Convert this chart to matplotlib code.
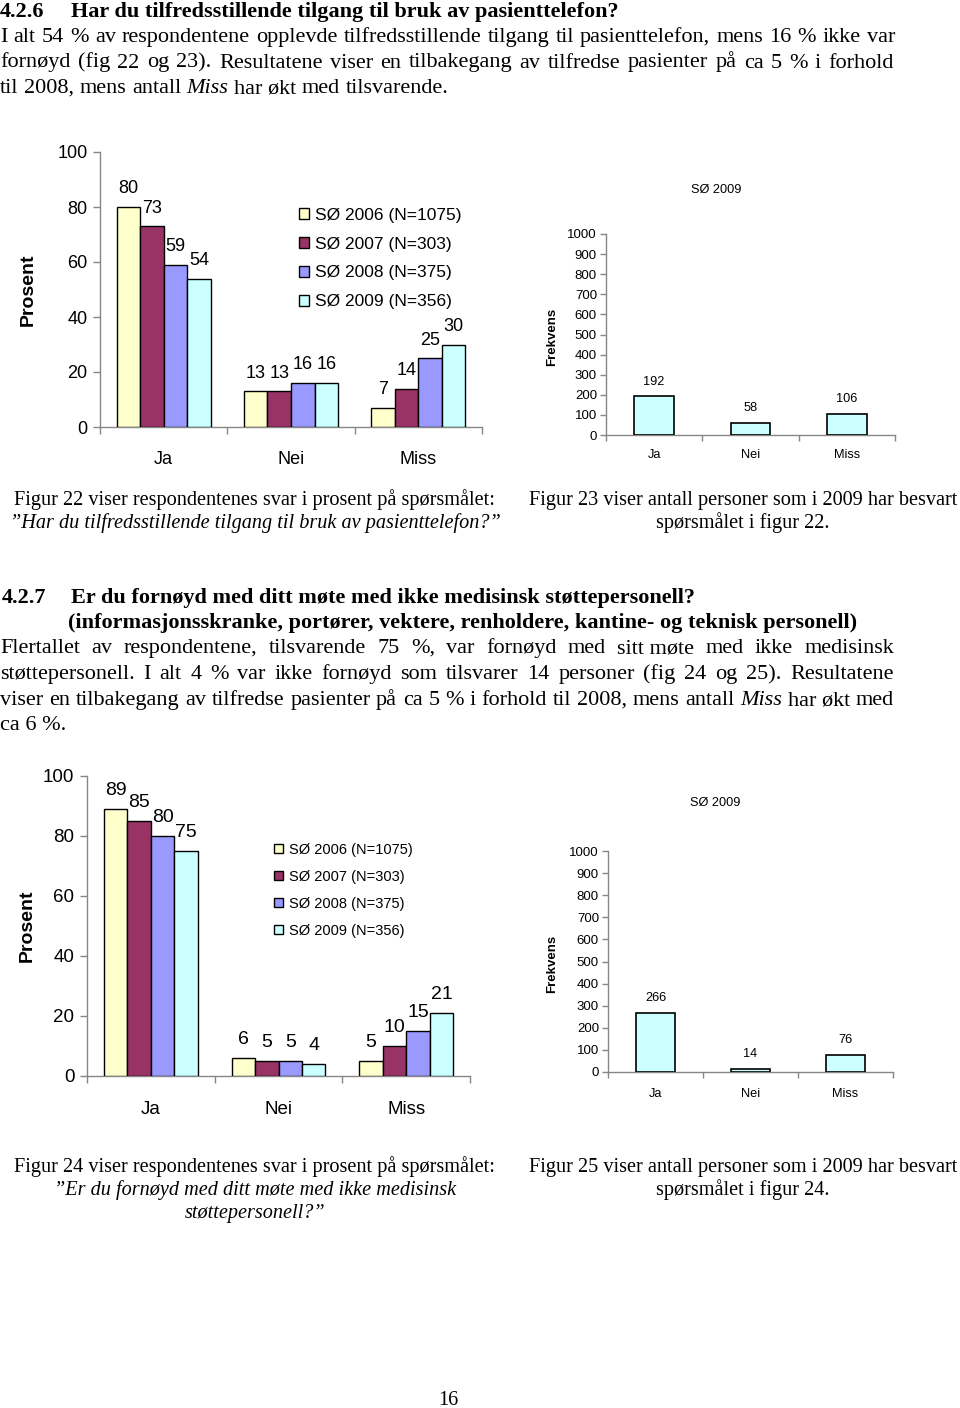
import matplotlib
matplotlib.use('Agg')
import matplotlib.pyplot as plt
import numpy as np

# ---------------- data ----------------
categories = ["Ja", "Nei", "Miss"]
series_labels = ["S\u00d8 2006 (N=1075)", "S\u00d8 2007 (N=303)", "S\u00d8 2008 (N=375)", "S\u00d8 2009 (N=356)"]
series_colors = ["#FFFFCC", "#993366", "#9999FF", "#CCFFFF"]

fig22_2006 = [80, 13, 7]
fig22_2007 = [73, 13, 14]
fig22_2008 = [59, 16, 25]
fig22_2009 = [54, 16, 30]

fig23_counts = [192, 58, 106]

fig24_2006 = [89, 6, 5]
fig24_2007 = [85, 5, 10]
fig24_2008 = [80, 5, 15]
fig24_2009 = [75, 4, 21]

fig25_counts = [266, 14, 76]

pct_ticks = [0, 20, 40, 60, 80, 100]
freq_ticks = [0, 100, 200, 300, 400, 500, 600, 700, 800, 900, 1000]

# ---------------- page setup ----------------
W, H, DPI = 960, 1408, 100
plt.rcParams['font.family'] = 'Liberation Sans'
fig = plt.figure(figsize=(W / DPI, H / DPI), dpi=DPI)
fig.patch.set_facecolor('white')
renderer = fig.canvas.get_renderer()

SERIF = 'Liberation Serif'
AXCOL = '#868686'


def fx(x):
    return x / W


def fy(y):
    return 1 - y / H


def add_ax(l, t, r, b):
    return fig.add_axes([l / W, 1 - b / H, (r - l) / W, (b - t) / H])


def split_words(s):
    # '~' joins two words into one unit (kept with an ordinary space)
    out = []
    for w in s.split():
        w = w.replace('~', ' ')
        if w.startswith('*') and w.endswith('*'):
            out.append((w.strip('*'), 'italic'))
        else:
            out.append((w, None))
    return out


def text_line(y, s, x0, x1=None, justify=False, size=16, align='left',
              weight='normal', style='normal'):
    if not justify and '*' not in s:
        # plain line: a single text object
        s2 = s.replace('~', ' ')
        if align == 'center':
            fig.text(fx((x0 + x1) / 2), fy(y), s2, fontsize=size, family=SERIF,
                     fontstyle=style, fontweight=weight, va='baseline', ha='center')
        else:
            fig.text(fx(x0), fy(y), s2, fontsize=size, family=SERIF,
                     fontstyle=style, fontweight=weight, va='baseline', ha='left')
        return
    ts = []
    for w, st in split_words(s):
        t = fig.text(0, fy(y), w, fontsize=size, family=SERIF,
                     fontstyle=(st or style), fontweight=weight,
                     va='baseline', ha='left')
        ts.append(t)
    widths = [t.get_window_extent(renderer).width for t in ts]
    sp = size * DPI / 72 * 0.25
    if justify and len(ts) > 1:
        sp = (x1 - x0 - sum(widths)) / (len(ts) - 1)
    total = sum(widths) + sp * (len(ts) - 1)
    start = (x0 + x1) / 2 - total / 2 if align == 'center' else x0
    x = start
    for t, w in zip(ts, widths):
        t.set_x(fx(x))
        x += w + sp


# ---------------- body text ----------------
text_line(17, "4.2.6", 0, weight='bold')
text_line(17, "Har du tilfredsstillende tilgang til bruk av pasienttelefon?", 71, weight='bold')
text_line(42, "I alt 54 % av respondentene opplevde tilfredsstillende tilgang til pasienttelefon, mens 16 % ikke var",
          0, 895, justify=True)
text_line(67.5, "forn\u00f8yd (fig 22 og 23).  Resultatene viser en tilbakegang av tilfredse pasienter p\u00e5 ca 5 % i forhold",
          0, 894, justify=True)
text_line(93, "til 2008, mens antall *Miss* har~\u00f8kt med tilsvarende.", 0)

text_line(505, "Figur 22 viser respondentenes svar i prosent p\u00e5 sp\u00f8rsm\u00e5let:", 0, 508, align='center', size=14.6)
text_line(528, "\u201dHar du tilfredsstillende tilgang til bruk av pasienttelefon?\u201d", 0, 510, align='center',
          size=14.6, style='italic')
text_line(505, "Figur 23 viser antall personer som i 2009 har besvart", 528, 958, align='center', size=14.6)
text_line(528, "sp\u00f8rsm\u00e5let i figur 22.", 528, 958, align='center', size=14.6)

text_line(603, "4.2.7", 2, weight='bold')
text_line(603, "Er du forn\u00f8yd med ditt m\u00f8te med ikke medisinsk st\u00f8ttepersonell?", 71, weight='bold')
text_line(628, "(informasjonsskranke, port\u00f8rer, vektere, renholdere, kantine- og teknisk personell)", 68, weight='bold')
text_line(653, "Flertallet av respondentene, tilsvarende 75 %, var forn\u00f8yd med sitt~m\u00f8te med ikke medisinsk",
          0, 894, justify=True)
text_line(679, "st\u00f8ttepersonell. I alt 4 % var ikke forn\u00f8yd som tilsvarer 14 personer (fig 24 og 25). Resultatene",
          0, 894, justify=True)
text_line(705, "viser en tilbakegang av tilfredse pasienter p\u00e5 ca 5 % i forhold til 2008, mens antall *Miss* har~\u00f8kt med",
          0, 894, justify=True)
text_line(730, "ca 6 %.", 0)

text_line(1172, "Figur 24 viser respondentenes svar i prosent p\u00e5 sp\u00f8rsm\u00e5let:", 0, 508, align='center', size=14.6)
text_line(1195, "\u201dEr du forn\u00f8yd med ditt m\u00f8te med ikke medisinsk", 0, 510, align='center', size=14.6, style='italic')
text_line(1218, "st\u00f8ttepersonell?\u201d", 0, 510, align='center', size=14.6, style='italic')
text_line(1172, "Figur 25 viser antall personer som i 2009 har besvart", 528, 958, align='center', size=14.6)
text_line(1195, "sp\u00f8rsm\u00e5let i figur 24.", 528, 958, align='center', size=14.6)

text_line(1405, "16", 400, 497, align='center', size=14.6)


# ---------------- charts ----------------
def style_axes(ax, ymax, yticks, tick_fs, cat_fs, catpad, ticklen, tickpad):
    ax.set_xlim(-0.5, 2.5)
    ax.set_ylim(0, ymax)
    ax.patch.set_alpha(0)
    for s in ['top', 'right']:
        ax.spines[s].set_visible(False)
    for s in ['left', 'bottom']:
        ax.spines[s].set_color(AXCOL)
        ax.spines[s].set_linewidth(1)
    ax.set_yticks(yticks)
    ax.tick_params(axis='y', colors=AXCOL, labelcolor='black', labelsize=tick_fs,
                   length=ticklen, pad=tickpad, width=1)
    ax.set_xticks(range(len(categories)))
    ax.set_xticklabels(categories, fontsize=cat_fs)
    ax.tick_params(axis='x', which='major', length=0, pad=catpad)
    ax.set_xticks([-0.5, 0.5, 1.5, 2.5], minor=True)
    ax.tick_params(axis='x', which='minor', length=ticklen, color=AXCOL, width=1)


def grouped_chart(box, series, legend_anchor, legend_fs, label_spacing, handlepad,
                  tick_fs, val_fs, val_pad, ylab_x, ylab_fs, bw, catpad):
    ax = add_ax(*box)
    x = np.arange(len(categories))
    handles = []
    for i, (vals, col, lab) in enumerate(zip(series, series_colors, series_labels)):
        cont = ax.bar(x + (i - 1.5) * bw, vals, bw, color=col, edgecolor='black',
                      linewidth=1, label=lab, zorder=3)
        ax.bar_label(cont, labels=[str(v) for v in vals], padding=val_pad, fontsize=val_fs)
        handles.append(cont)
    style_axes(ax, 100, pct_ticks, tick_fs, tick_fs, catpad, 5, 4)
    ax.text(ylab_x, 0.5, "Prosent", rotation=90, transform=ax.transAxes,
            ha='center', va='center', fontsize=ylab_fs, fontweight='bold')
    ax.legend(handles, series_labels, loc='upper left',
              bbox_to_anchor=(fx(legend_anchor[0]), fy(legend_anchor[1])),
              bbox_transform=fig.transFigure, frameon=False, fontsize=legend_fs,
              handlelength=0.6, handleheight=0.6, handletextpad=handlepad,
              labelspacing=label_spacing, borderpad=0, borderaxespad=0)
    return ax


def count_chart(box, counts, title_xy, ylab_x, catpad):
    ax = add_ax(*box)
    x = np.arange(len(categories))
    cont = ax.bar(x, counts, 0.415, color=series_colors[3], edgecolor='black',
                  linewidth=1.2, zorder=3)
    ax.bar_label(cont, labels=[str(v) for v in counts], padding=6.4, fontsize=9.2)
    style_axes(ax, 1000, freq_ticks, 9.5, 9.2, catpad, 4, 2.5)
    ax.text(title_xy[0], title_xy[1], "S\u00d8 2009", transform=ax.transAxes,
            ha='center', va='center', fontsize=9.2)
    ax.text(ylab_x, 0.49, "Frekvens", rotation=90, transform=ax.transAxes,
            ha='center', va='center', fontsize=9.5, fontweight='bold')
    return ax


grouped_chart((100, 152, 482, 427),
              [fig22_2006, fig22_2007, fig22_2008, fig22_2009],
              legend_anchor=(299, 208), legend_fs=12.5, label_spacing=0.79, handlepad=0.35,
              tick_fs=13, val_fs=13, val_pad=7, ylab_x=-0.188, ylab_fs=14, bw=0.185,
              catpad=17.6)

count_chart((606, 234, 895, 435), fig23_counts, (0.38, 1.219), -0.187, 10.2)

grouped_chart((87, 776, 470, 1076),
              [fig24_2006, fig24_2007, fig24_2008, fig24_2009],
              legend_anchor=(274, 843), legend_fs=10.5, label_spacing=0.88, handlepad=0.43,
              tick_fs=13.5, val_fs=14, val_pad=7, ylab_x=-0.157, ylab_fs=14, bw=0.184,
              catpad=18.3)

count_chart((608, 851, 893, 1072), fig25_counts, (0.375, 1.217), -0.196, 11.7)

fig.savefig('out.png', dpi=DPI, facecolor='white')
